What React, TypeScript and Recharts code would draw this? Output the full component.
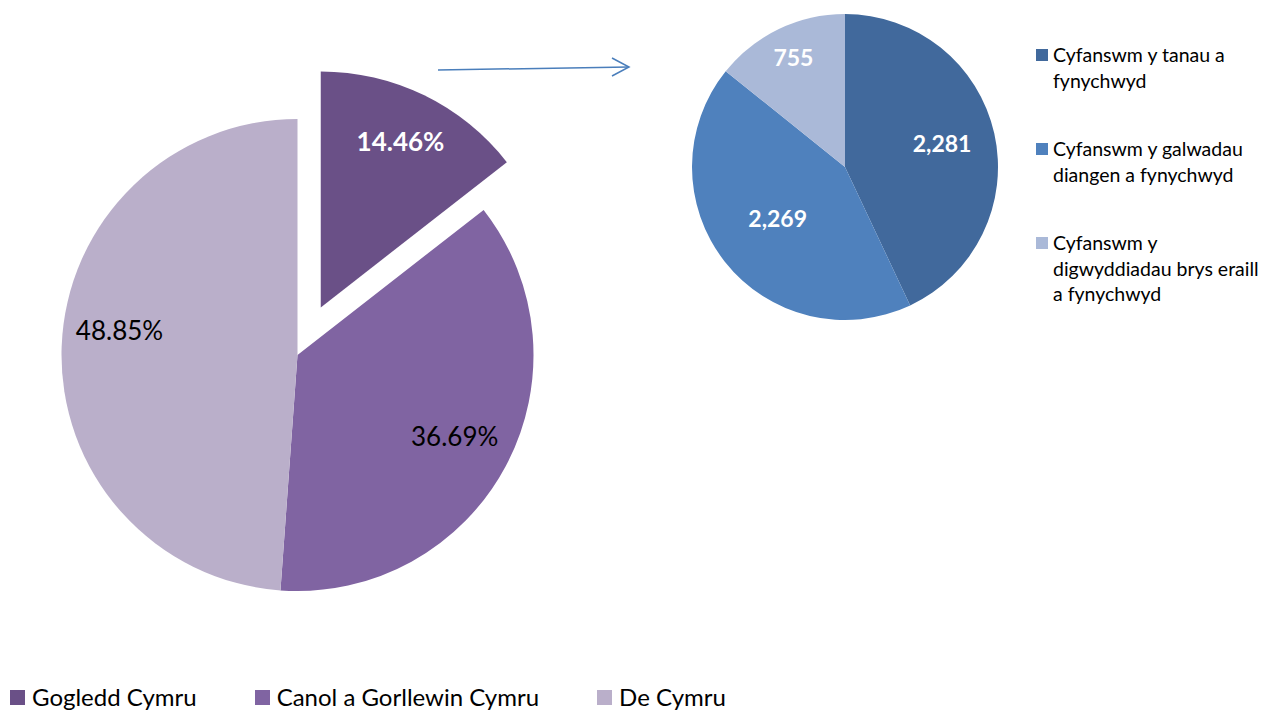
import { Cell, Legend, Pie, PieChart } from 'recharts';

const REGIONS = ['Gogledd Cymru', 'Canol a Gorllewin Cymru', 'De Cymru'];
const REGION_SHARES = [14.46, 36.69, 48.85];
const REGION_COLORS = ['#6A5087', '#8064A2', '#BAAFCA'];

const INCIDENT_TYPES = [
  'Cyfanswm y tanau a fynychwyd',
  'Cyfanswm y galwadau diangen a fynychwyd',
  'Cyfanswm y digwyddiadau brys eraill a fynychwyd',
];
const INCIDENT_COUNTS = [2281, 2269, 755];
const INCIDENT_COLORS = ['#41699C', '#4F81BD', '#AAB9D8'];

const FONT = 'Lato, "Open Sans", sans-serif';
const RADIAN = Math.PI / 180;

const regionData = REGIONS.map((name, i) => ({ name, value: REGION_SHARES[i] }));
const incidentData = INCIDENT_TYPES.map((name, i) => ({ name, value: INCIDENT_COUNTS[i] }));

// big pie geometry
const MAIN_CX = 297.5;
const MAIN_CY = 355;
const MAIN_R = 236;
const EXPLODE = 53;
const totalShare = REGION_SHARES.reduce((a, b) => a + b, 0);
const explodeAngle = (REGION_SHARES[0] / totalShare) * 180 * RADIAN;
const EXP_CX = MAIN_CX + EXPLODE * Math.sin(explodeAngle);
const EXP_CY = MAIN_CY - EXPLODE * Math.cos(explodeAngle);

// label placement tweaks (radius factor, angle nudge in degrees)
const LEFT_LABEL_POS = [0.77, 0.755, 0.76];
const LEFT_LABEL_NUDGE = [0, 0, -5];
const RIGHT_LABEL_POS = [0.65, 0.56, 0.78];

type LabelArgs = {
  cx: number;
  cy: number;
  midAngle: number;
  outerRadius: number;
  percent: number;
  value: number;
  index: number;
};

const makeRegionLabel = (only: number | null) => (p: LabelArgs) => {
  if (only === null ? p.index === 0 : p.index !== 0) return null;
  const r = p.outerRadius * LEFT_LABEL_POS[p.index];
  const a = (p.midAngle + LEFT_LABEL_NUDGE[p.index]) * RADIAN;
  const x = p.cx + r * Math.cos(-a);
  const y = p.cy + r * Math.sin(-a) - 3;
  const first = p.index === 0;
  return (
    <text
      x={x}
      y={y}
      fontSize={26}
      fontFamily={FONT}
      fontWeight={first ? 700 : 400}
      fill={first ? '#fff' : '#000'}
      textAnchor="middle"
      dominantBaseline="central">
      {`${(p.percent * 100).toFixed(2)}%`}
    </text>
  );
};

const renderIncidentLabel = (p: LabelArgs) => {
  const r = p.outerRadius * RIGHT_LABEL_POS[p.index];
  const x = p.cx + r * Math.cos(-p.midAngle * RADIAN);
  const y = p.cy + r * Math.sin(-p.midAngle * RADIAN) - 2;
  return (
    <text
      x={x}
      y={y}
      fontSize={23}
      fontFamily={FONT}
      fontWeight={700}
      fill="#fff"
      textAnchor="middle"
      dominantBaseline="central">
      {p.value.toLocaleString('en-US')}
    </text>
  );
};

const renderBottomLegend = () => (
  <div style={{ display: 'flex', gap: 58, fontFamily: FONT, fontSize: 24, color: '#000' }}>
    {REGIONS.map((name, i) => (
      <div key={name} style={{ display: 'flex', alignItems: 'center', lineHeight: '28px' }}>
        <span
          style={{ width: 15, height: 15, background: REGION_COLORS[i], marginRight: 7, display: 'inline-block' }}
        />
        <span>{name}</span>
      </div>
    ))}
  </div>
);

const renderRightLegend = () => (
  <div style={{ fontFamily: FONT, fontSize: 19.5, color: '#000', width: 240 }}>
    {INCIDENT_TYPES.map((name, i) => (
      <div key={name} style={{ display: 'flex', alignItems: 'flex-start', marginBottom: 43 }}>
        <span
          style={{
            width: 12,
            height: 12,
            background: INCIDENT_COLORS[i],
            marginRight: 5,
            marginTop: 7,
            flexShrink: 0,
          }}
        />
        <span style={{ lineHeight: '25.5px', width: 215 }}>{name}</span>
      </div>
    ))}
  </div>
);

export default function App() {
  return (
    <div style={{ position: 'absolute', left: 0, top: 0, width: 1277, height: 711, background: '#fff' }}>
      <div style={{ position: 'absolute', left: 0, top: 0 }}>
        <PieChart width={1277} height={711} margin={{ top: 0, right: 0, bottom: 0, left: 0 }}>
          <Pie
            data={regionData}
            dataKey="value"
            cx={MAIN_CX}
            cy={MAIN_CY}
            outerRadius={MAIN_R}
            startAngle={90}
            endAngle={-270}
            stroke="none"
            labelLine={false}
            label={makeRegionLabel(null)}
            isAnimationActive={false}>
            {regionData.map((_, i) => (
              <Cell key={`m-${i}`} fill={i === 0 ? 'transparent' : REGION_COLORS[i]} />
            ))}
          </Pie>
          <Pie
            data={regionData}
            dataKey="value"
            cx={EXP_CX}
            cy={EXP_CY}
            outerRadius={MAIN_R}
            startAngle={90}
            endAngle={-270}
            stroke="none"
            labelLine={false}
            label={makeRegionLabel(0)}
            isAnimationActive={false}>
            {regionData.map((_, i) => (
              <Cell key={`e-${i}`} fill={i === 0 ? REGION_COLORS[0] : 'transparent'} />
            ))}
          </Pie>
          <Legend
            content={renderBottomLegend}
            wrapperStyle={{ position: 'absolute', left: 10, top: 683, width: 'auto' }}
          />
        </PieChart>
      </div>
      <div style={{ position: 'absolute', left: 0, top: 0 }}>
        <PieChart width={1277} height={711} margin={{ top: 0, right: 0, bottom: 0, left: 0 }}>
          <Pie
            data={incidentData}
            dataKey="value"
            cx={845}
            cy={167}
            outerRadius={153}
            startAngle={90}
            endAngle={-270}
            stroke="none"
            labelLine={false}
            label={renderIncidentLabel}
            isAnimationActive={false}>
            {incidentData.map((_, i) => (
              <Cell key={`r-${i}`} fill={INCIDENT_COLORS[i]} />
            ))}
          </Pie>
          <Legend
            content={renderRightLegend}
            wrapperStyle={{ position: 'absolute', left: 1036, top: 42, width: 'auto' }}
          />
        </PieChart>
      </div>
      <svg
        width={1277}
        height={711}
        style={{ position: 'absolute', left: 0, top: 0, pointerEvents: 'none' }}>
        <line x1={438} y1={70} x2={629} y2={67} stroke="#4A7EBB" strokeWidth={1.5} />
        <polyline points="612,58 629,67 612,76" fill="none" stroke="#4A7EBB" strokeWidth={1.5} />
      </svg>
    </div>
  );
}
